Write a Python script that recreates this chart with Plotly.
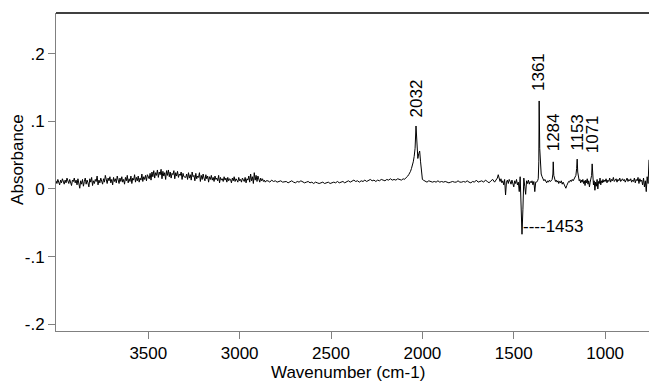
import numpy as np
import plotly.graph_objects as go

# ---- data (wavenumber in cm-1, absorbance) ----
seg1_wn = np.arange(4005, 3500, -5)
seg1_abs = [0.012, 0.008, 0.014, 0.010, 0.006, 0.013, 0.009, 0.015, 0.011, 0.007,
            0.013, 0.009, 0.016, 0.012, 0.008, 0.014, 0.010, 0.005, 0.013, 0.011,
            0.016, 0.009, 0.013, 0.006, 0.015, 0.010, 0.001, 0.012, 0.007, 0.014,
            0.004, 0.011, 0.016, 0.007, 0.013, 0.009, 0.003, 0.015, 0.010, 0.017,
            0.005, 0.012, 0.008, 0.014, 0.011, 0.019, 0.006, 0.013, 0.009, 0.016,
            0.012, 0.007, 0.015, 0.010, 0.020, 0.011, 0.008, 0.016, 0.012, 0.018,
            0.009, 0.014, 0.006, 0.017, 0.011, 0.015, 0.009, 0.019, 0.013, 0.008,
            0.016, 0.011, 0.018, 0.010, 0.014, 0.007, 0.017, 0.012, 0.020, 0.009,
            0.015, 0.011, 0.019, 0.008, 0.016, 0.013, 0.021, 0.010, 0.017, 0.012,
            0.019, 0.010, 0.016, 0.013, 0.022, 0.011, 0.018, 0.014, 0.020, 0.012,
            0.021]

seg2_wn = np.arange(3495, 3300, -5)
seg2_abs = [0.015, 0.023, 0.013, 0.025, 0.018, 0.027, 0.016, 0.024, 0.020, 0.028,
            0.017, 0.025, 0.021, 0.029, 0.015, 0.026, 0.019, 0.024, 0.014, 0.027,
            0.020, 0.028, 0.018, 0.025, 0.016, 0.023, 0.021, 0.027, 0.015, 0.024,
            0.019, 0.026, 0.017, 0.022, 0.020, 0.025, 0.014, 0.023, 0.018]

seg3_wn = np.arange(3295, 2850, -5)
seg3_abs = [0.017, 0.022, 0.014, 0.024, 0.016, 0.021, 0.013, 0.025, 0.018, 0.020,
            0.012, 0.023, 0.015, 0.019, 0.017, 0.024, 0.011, 0.020, 0.014, 0.022,
            0.016, 0.012, 0.021, 0.015, 0.019, 0.010, 0.018, 0.014, 0.020, 0.013,
            0.017, 0.011, 0.019, 0.014, 0.016, 0.012, 0.020, 0.009, 0.017, 0.013,
            0.015, 0.011, 0.018, 0.013, 0.016, 0.010, 0.017, 0.012, 0.015, 0.014,
            0.009, 0.016, 0.012, 0.018, 0.011, 0.015, 0.013, 0.010, 0.017, 0.012,
            0.014, 0.010, 0.016, 0.012, 0.011, 0.017, 0.009, 0.015, 0.013, 0.019,
            0.010, 0.022, 0.012, 0.018, 0.008, 0.024, 0.013, 0.020, 0.011, 0.019,
            0.014, 0.010, 0.016, 0.012, 0.015, 0.011, 0.013, 0.010, 0.012]

seg4_wn = np.arange(2845, 2100, -10)
seg4_abs = [0.012, 0.010, 0.013, 0.011, 0.012, 0.010, 0.011, 0.012, 0.010, 0.011,
            0.011, 0.009, 0.010, 0.012, 0.010, 0.009, 0.011, 0.010, 0.012, 0.010,
            0.009, 0.010, 0.011, 0.009, 0.010, 0.008, 0.010, 0.009, 0.008, 0.009,
            0.010, 0.008, 0.009, 0.010, 0.008, 0.009, 0.010, 0.009, 0.011, 0.009,
            0.010, 0.011, 0.009, 0.010, 0.012, 0.010, 0.011, 0.013, 0.011, 0.012,
            0.010, 0.012, 0.011, 0.013, 0.011, 0.012, 0.014, 0.012, 0.013, 0.011,
            0.013, 0.012, 0.014, 0.013, 0.012, 0.014, 0.013, 0.015, 0.013, 0.014,
            0.013, 0.015, 0.014, 0.013, 0.015]

seg5_wn = np.arange(2100, 1985, -5)
seg5_abs = [0.014, 0.015, 0.016, 0.017, 0.019, 0.021, 0.023, 0.026, 0.030, 0.034,
            0.040, 0.048, 0.060, 0.093, 0.070, 0.045, 0.052, 0.056, 0.040, 0.020,
            0.014, 0.013, 0.012]

seg6_wn = np.arange(1985, 1600, -10)
seg6_abs = [0.011, 0.010, 0.012, 0.011, 0.010, 0.011, 0.010, 0.012, 0.010, 0.011,
            0.010, 0.011, 0.010, 0.009, 0.010, 0.011, 0.010, 0.010, 0.012, 0.010,
            0.010, 0.011, 0.010, 0.012, 0.010, 0.009, 0.011, 0.010, 0.013, 0.010,
            0.011, 0.012, 0.010, 0.013, 0.011, 0.009, 0.012, 0.014, 0.010]

seg7_wn = np.arange(1600, 1375, -5)
seg7_abs = [0.012, 0.014, 0.016, 0.021, 0.013, 0.011, 0.015, 0.009, 0.012, 0.006,
            0.014, -0.009, 0.010, 0.013, 0.008, 0.014, 0.011, 0.007, 0.013, 0.009,
            0.003, 0.012, 0.008, 0.014, 0.006, 0.010, -0.004, 0.018, -0.016, -0.067,
            -0.030, 0.016, 0.004, -0.008, 0.012, 0.008, 0.013, 0.007, 0.011, 0.009,
            0.012, 0.006, 0.011, -0.004, 0.010]

seg8_wn = [1375, 1370, 1366, 1363, 1361, 1358, 1354, 1350, 1345, 1340,
           1335, 1330, 1325, 1320, 1315, 1310, 1305, 1300, 1295, 1290,
           1286, 1284, 1281, 1277, 1272, 1268, 1263, 1258, 1254, 1250,
           1245, 1240, 1235, 1230, 1225, 1220, 1215, 1210, 1205, 1200,
           1195, 1190, 1185, 1180, 1175, 1170, 1165, 1160, 1156, 1153,
           1150, 1146, 1142, 1138, 1134, 1130, 1126, 1122, 1118, 1114,
           1110, 1106, 1102, 1098, 1094, 1090, 1086, 1082, 1078, 1074,
           1071, 1068, 1064, 1060, 1056, 1052, 1048, 1044, 1040, 1036,
           1032, 1028, 1024, 1020, 1016, 1012, 1008, 1004, 1000]
seg8_abs = [0.010, 0.012, 0.015, 0.040, 0.130, 0.060, 0.032, 0.022, 0.018, 0.015,
            0.012, 0.014, 0.011, 0.009, 0.012, 0.010, 0.013, 0.011, 0.012, 0.014,
            0.022, 0.040, 0.020, 0.014, 0.011, 0.013, 0.010, 0.012, 0.008, 0.011,
            0.009, 0.012, 0.007, 0.010, 0.006, 0.004, 0.001, 0.005, 0.009, 0.011,
            0.010, 0.013, 0.011, 0.014, 0.012, 0.015, 0.016, 0.020, 0.030, 0.044,
            0.025, 0.017, 0.012, 0.014, 0.009, 0.013, 0.010, 0.014, 0.008, 0.012,
            0.005, 0.013, 0.009, 0.015, 0.007, 0.012, 0.003, 0.010, 0.014, 0.020,
            0.037, 0.015, 0.006, 0.012, -0.002, 0.010, 0.004, 0.014, 0.000, 0.011,
            0.008, 0.016, 0.006, 0.012, 0.009, 0.014, 0.010, 0.013, 0.011]

seg9_wn = np.arange(995, 755, -5)
seg9_abs = [0.015, 0.009, 0.013, 0.011, 0.016, 0.010, 0.014, 0.012, 0.017, 0.011,
            0.013, 0.015, 0.010, 0.014, 0.012, 0.016, 0.011, 0.013, 0.015, 0.012,
            0.014, 0.010, 0.013, 0.016, 0.011, 0.014, 0.012, 0.015, 0.010, 0.013,
            0.011, 0.016, 0.009, 0.014, 0.012, 0.017, 0.008, 0.015, 0.011, 0.013,
            0.006, 0.016, 0.003, 0.012, -0.004, 0.018, 0.008, 0.043]

peak_labels = ["2032", "1361", "1284", "1153", "1071"]
peak_wn = [2032, 1361, 1284, 1153, 1071]
neg_label = "----1453"
neg_wn = 1453

y_tick_vals = [0.2, 0.1, 0, -0.1, -0.2]
y_tick_text = [".2", ".1", "0", "-.1", "-.2"]
x_tick_vals = [3500, 3000, 2500, 2000, 1500, 1000]

# ---- assemble ----
segs = [(seg1_wn, seg1_abs), (seg2_wn, seg2_abs), (seg3_wn, seg3_abs),
        (seg4_wn, seg4_abs), (seg5_wn, seg5_abs), (seg6_wn, seg6_abs),
        (seg7_wn, seg7_abs), (seg8_wn, seg8_abs), (seg9_wn, seg9_abs)]
wn, ab = [], []
for w, a in segs:
    n = min(len(w), len(a))
    wn.extend(list(w)[:n])
    ab.extend(list(a)[:n])

FONT = "Arial, Liberation Sans, sans-serif"
fig = go.Figure()
fig.add_trace(go.Scatter(x=wn, y=ab, mode="lines",
                         line=dict(color="black", width=1), showlegend=False,
                         hoverinfo="skip"))

# label base positions above peaks (absorbance units)
label_base = [0.102, 0.142, 0.053, 0.053, 0.050]
for t, x, yb in zip(peak_labels, peak_wn, label_base):
    fig.add_annotation(x=x, y=yb, text=t, textangle=-90, showarrow=False,
                       xanchor="center", yanchor="bottom",
                       font=dict(family=FONT, size=17, color="black"))
fig.add_annotation(x=neg_wn, y=-0.055, text=neg_label, showarrow=False,
                   xanchor="left", yanchor="middle", xshift=-1,
                   font=dict(family=FONT, size=17, color="black"))

# axis titles
fig.add_annotation(xref="paper", yref="paper", x=0.4924, y=0, yshift=-41,
                   text="Wavenumber (cm-1)", showarrow=False,
                   xanchor="center", yanchor="middle",
                   font=dict(family=FONT, size=17, color="black"))
fig.add_annotation(xref="paper", yref="paper", x=0, xshift=-38, y=0.538,
                   text="Absorbance", textangle=-90, showarrow=False,
                   xanchor="center", yanchor="middle",
                   font=dict(family=FONT, size=17, color="black"))

# top frame line
fig.add_shape(type="line", xref="paper", yref="paper", x0=0, x1=1, y0=1, y1=1,
              line=dict(color="black", width=1.5))

fig.update_layout(
    width=649, height=381,
    margin=dict(l=56, r=0, t=13, b=50),
    paper_bgcolor="white", plot_bgcolor="white",
    font=dict(family=FONT, size=17, color="black"),
    xaxis=dict(range=[4005, 760], tickvals=x_tick_vals,
               ticks="outside", ticklen=7, tickcolor="#808080", tickwidth=1,
               showline=True, linecolor="#808080", linewidth=1,
               showgrid=False, zeroline=False,
               tickfont=dict(family=FONT, size=17, color="black")),
    yaxis=dict(range=[-0.21, 0.26], tickvals=y_tick_vals, ticktext=y_tick_text,
               ticks="outside", ticklen=7, tickcolor="#808080", tickwidth=1,
               showline=True, linecolor="#808080", linewidth=1,
               showgrid=False, zeroline=False,
               tickfont=dict(family=FONT, size=17, color="black")),
)

fig.write_html("out.html")
